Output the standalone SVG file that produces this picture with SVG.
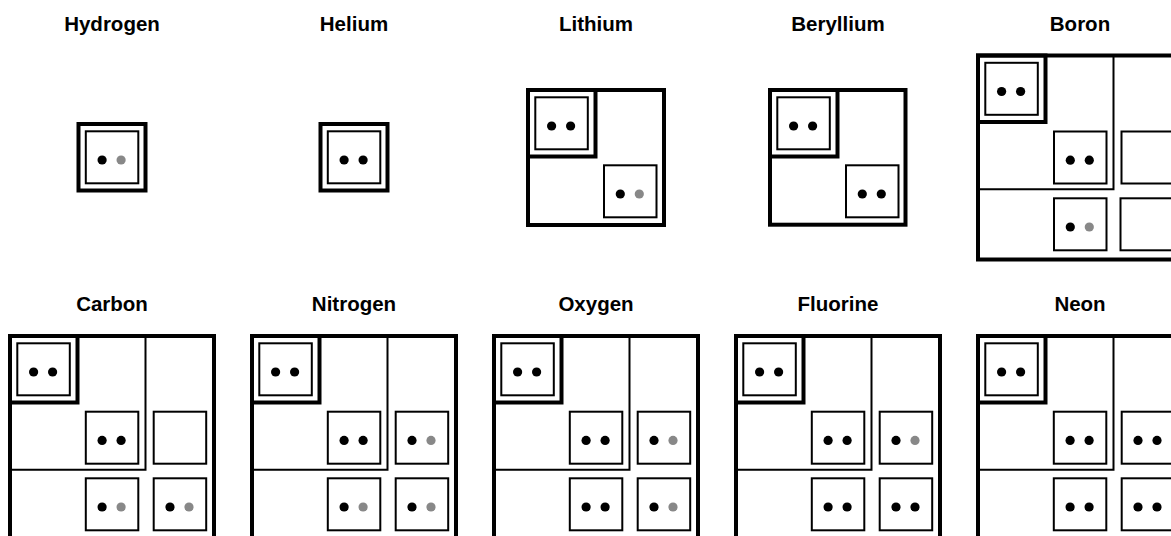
<svg xmlns="http://www.w3.org/2000/svg" xmlns:xlink="http://www.w3.org/1999/xlink" width="1171" height="536" viewBox="0 0 1171 536">
<style>
.title{font-family:"Liberation Sans",Arial,sans-serif;font-weight:bold;font-size:20.5px;text-anchor:middle;fill:#000}
.thick{fill:none;stroke:#000;stroke-width:4}
.thin{fill:none;stroke:#000;stroke-width:2}
.e{fill:#000}
.h{fill:#888}
</style>
<defs>
<g id="box-e"><rect class="thin" x="0" y="0" width="52.5" height="52"/></g>
<g id="box-bb"><rect class="thin" x="0" y="0" width="52.5" height="52"/><circle class="e" cx="16.3" cy="28.7" r="4.6"/><circle class="e" cx="35.3" cy="28.7" r="4.6"/></g>
<g id="box-bg"><rect class="thin" x="0" y="0" width="52.5" height="52"/><circle class="e" cx="16.3" cy="28.7" r="4.6"/><circle class="h" cx="35.3" cy="28.7" r="4.6"/></g>
<g id="core"><rect class="thick" x="0" y="0" width="67.5" height="66.5"/><use xlink:href="#box-bb" x="7.3" y="7.3"/></g>
<g id="frame3"><rect class="thick" x="0" y="0" width="204" height="204"/><path class="thin" d="M135.5,0V133.7H0"/><use xlink:href="#core"/></g>
</defs>
<rect x="0" y="0" width="1171" height="536" fill="#fff"/>
<g id="hydrogen">
<text class="title" x="112" y="30.7">Hydrogen</text>
<g transform="translate(78.5,124)"><rect class="thick" x="0" y="0" width="67" height="66.5"/><use xlink:href="#box-bg" x="7.3" y="7.3"/></g>
</g>
<g id="helium">
<text class="title" x="354" y="30.7">Helium</text>
<g transform="translate(320.5,124)"><rect class="thick" x="0" y="0" width="67" height="66.5"/><use xlink:href="#box-bb" x="7.3" y="7.3"/></g>
</g>
<g id="lithium">
<text class="title" x="596" y="30.7">Lithium</text>
<g transform="translate(528,90)"><rect class="thick" x="0" y="0" width="136" height="135"/><use xlink:href="#core"/><use xlink:href="#box-bg" x="76" y="75.3"/></g>
</g>
<g id="beryllium">
<text class="title" x="838" y="30.7">Beryllium</text>
<g transform="translate(770,90)"><rect class="thick" x="0" y="0" width="135.5" height="134.7"/><use xlink:href="#core"/><use xlink:href="#box-bb" x="76" y="75.3"/></g>
</g>
<g id="boron">
<text class="title" x="1080" y="30.7">Boron</text>
<g transform="translate(978,55.5)"><use xlink:href="#frame3"/><use xlink:href="#box-bb" x="76" y="76"/><use xlink:href="#box-e" x="143.5" y="76"/><use xlink:href="#box-bg" x="76" y="142.8"/><use xlink:href="#box-e" x="142.5" y="142.8"/></g>
</g>
<g id="carbon">
<text class="title" x="112" y="310.7">Carbon</text>
<g transform="translate(10,336)"><use xlink:href="#frame3"/><use xlink:href="#box-bb" x="75.8" y="75.7"/><use xlink:href="#box-e" x="143.7" y="75.7"/><use xlink:href="#box-bg" x="75.8" y="142.3"/><use xlink:href="#box-bg" x="143.7" y="142.3"/></g>
</g>
<g id="nitrogen">
<text class="title" x="354" y="310.7">Nitrogen</text>
<g transform="translate(252,336)"><use xlink:href="#frame3"/><use xlink:href="#box-bb" x="75.8" y="75.7"/><use xlink:href="#box-bg" x="143.7" y="75.7"/><use xlink:href="#box-bg" x="75.8" y="142.3"/><use xlink:href="#box-bg" x="143.7" y="142.3"/></g>
</g>
<g id="oxygen">
<text class="title" x="596" y="310.7">Oxygen</text>
<g transform="translate(494,336)"><use xlink:href="#frame3"/><use xlink:href="#box-bb" x="75.8" y="75.7"/><use xlink:href="#box-bg" x="143.7" y="75.7"/><use xlink:href="#box-bb" x="75.8" y="142.3"/><use xlink:href="#box-bg" x="143.7" y="142.3"/></g>
</g>
<g id="fluorine">
<text class="title" x="838" y="310.7">Fluorine</text>
<g transform="translate(736,336)"><use xlink:href="#frame3"/><use xlink:href="#box-bb" x="75.8" y="75.7"/><use xlink:href="#box-bg" x="143.7" y="75.7"/><use xlink:href="#box-bb" x="75.8" y="142.3"/><use xlink:href="#box-bb" x="143.7" y="142.3"/></g>
</g>
<g id="neon">
<text class="title" x="1080" y="310.7">Neon</text>
<g transform="translate(978,336)"><use xlink:href="#frame3"/><use xlink:href="#box-bb" x="75.8" y="75.7"/><use xlink:href="#box-bb" x="143.7" y="75.7"/><use xlink:href="#box-bb" x="75.8" y="142.3"/><use xlink:href="#box-bb" x="143.7" y="142.3"/></g>
</g>
<g id="connectors"></g>
</svg>
